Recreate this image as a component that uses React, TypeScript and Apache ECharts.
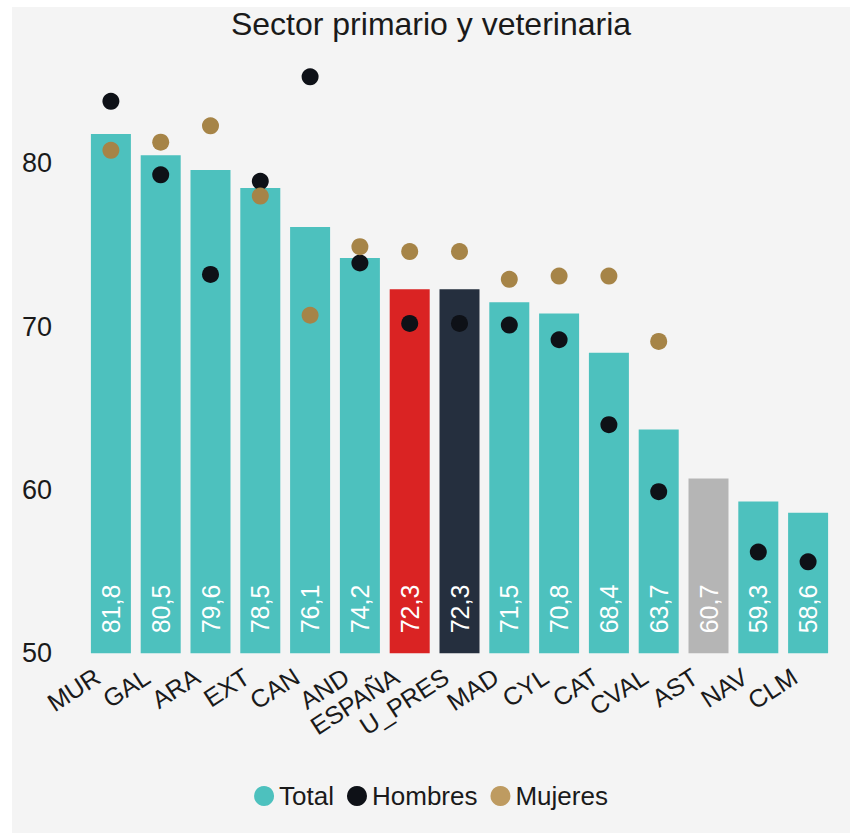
import React, { useEffect, useRef } from "react";
import * as echarts from "echarts";

const categories = ["MUR", "GAL", "ARA", "EXT", "CAN", "AND", "ESPAÑA", "U_PRES", "MAD", "CYL", "CAT", "CVAL", "AST", "NAV", "CLM"];
const total = [81.8, 80.5, 79.6, 78.5, 76.1, 74.2, 72.3, 72.3, 71.5, 70.8, 68.4, 63.7, 60.7, 59.3, 58.6];
const hombres: (number | null)[] = [83.8, 79.3, 73.2, 78.9, 85.3, 73.9, 70.2, 70.2, 70.1, 69.2, 64.0, 59.9, null, 56.2, 55.6];
const mujeres: (number | null)[] = [80.8, 81.3, 82.3, 78.0, 70.7, 74.9, 74.6, 74.6, 72.9, 73.1, 73.1, 69.1, null, null, null];
const yTicks = [50, 60, 70, 80];

const TEAL = "#4DC1BE";
const specialColors: Record<string, string> = {
  "ESPAÑA": "#DA2323",
  "U_PRES": "#252F3E",
  "AST": "#B5B5B5",
};
const HOMBRES = "#0E1117";
const MUJERES = "#A68447";
const FONT = "Liberation Sans, Arial, sans-serif";

export default function App() {
  const ref = useRef<HTMLDivElement>(null);
  useEffect(() => {
    if (!ref.current) return;
    const chart = echarts.init(ref.current, null, { renderer: "svg" });
    chart.setOption({
      animation: false,
      backgroundColor: "#F4F4F4",
      textStyle: { fontFamily: FONT },
      title: {
        text: "Sector primario y veterinaria",
        left: "center",
        top: 0,
        padding: [1, 0, 0, 8],
        textStyle: { fontSize: 32, fontWeight: "normal", color: "#1a1a1a", fontFamily: FONT },
      },
      legend: {
        bottom: 19,
        left: "center",
        icon: "circle",
        itemWidth: 20,
        itemHeight: 20,
        itemGap: 13,
        textStyle: { fontSize: 26, color: "#1a1a1a", fontFamily: FONT },
        data: [
          { name: "Total", itemStyle: { color: TEAL } },
          { name: "Hombres", itemStyle: { color: HOMBRES } },
          { name: "Mujeres", itemStyle: { color: "#BE9B61" } },
        ],
      },
      grid: { left: 74, right: 17, top: 58.4, bottom: 179.7, containLabel: false },
      xAxis: {
        type: "category",
        data: categories,
        axisLine: { show: false },
        axisTick: { show: false },
        axisLabel: {
          rotate: 33,
          interval: 0,
          margin: 12,
          fontSize: 25,
          color: "#1a1a1a",
          fontFamily: FONT,
          padding: [0, 16, 0, 0],
        },
      },
      yAxis: {
        type: "value",
        min: 50,
        max: 86,
        interval: 10,
        splitLine: { show: false },
        axisLine: { show: false },
        axisTick: { show: false },
        axisLabel: {
          fontSize: 27,
          color: "#1a1a1a",
          fontFamily: FONT,
          margin: 34,
          formatter: (v: number) => (yTicks.includes(v) ? String(v) : ""),
        },
      },
      series: [
        {
          name: "Total",
          type: "bar",
          barWidth: 40,
          itemStyle: { color: TEAL },
          data: total.map((v, i) => ({
            value: v,
            itemStyle: { color: specialColors[categories[i]] || TEAL },
          })),
          label: {
            show: true,
            position: "insideBottom",
            rotate: 90,
            align: "left",
            verticalAlign: "middle",
            distance: 20,
            color: "#ffffff",
            fontSize: 25,
            fontFamily: FONT,
            formatter: (p: any) => String(p.value.toFixed(1)).replace(".", ","),
          },
        },
        {
          name: "Hombres",
          type: "scatter",
          symbol: "circle",
          symbolSize: 17,
          itemStyle: { color: HOMBRES, opacity: 1 },
          data: hombres,
          z: 3,
        },
        {
          name: "Mujeres",
          type: "scatter",
          symbol: "circle",
          symbolSize: 17,
          itemStyle: { color: MUJERES, opacity: 1 },
          data: mujeres,
          z: 3,
        },
      ],
    });
    return () => chart.dispose();
  }, []);
  return (
    <div
      ref={ref}
      style={{ position: "fixed", left: 12, top: 7, width: 838, height: 826 }}
    />
  );
}
